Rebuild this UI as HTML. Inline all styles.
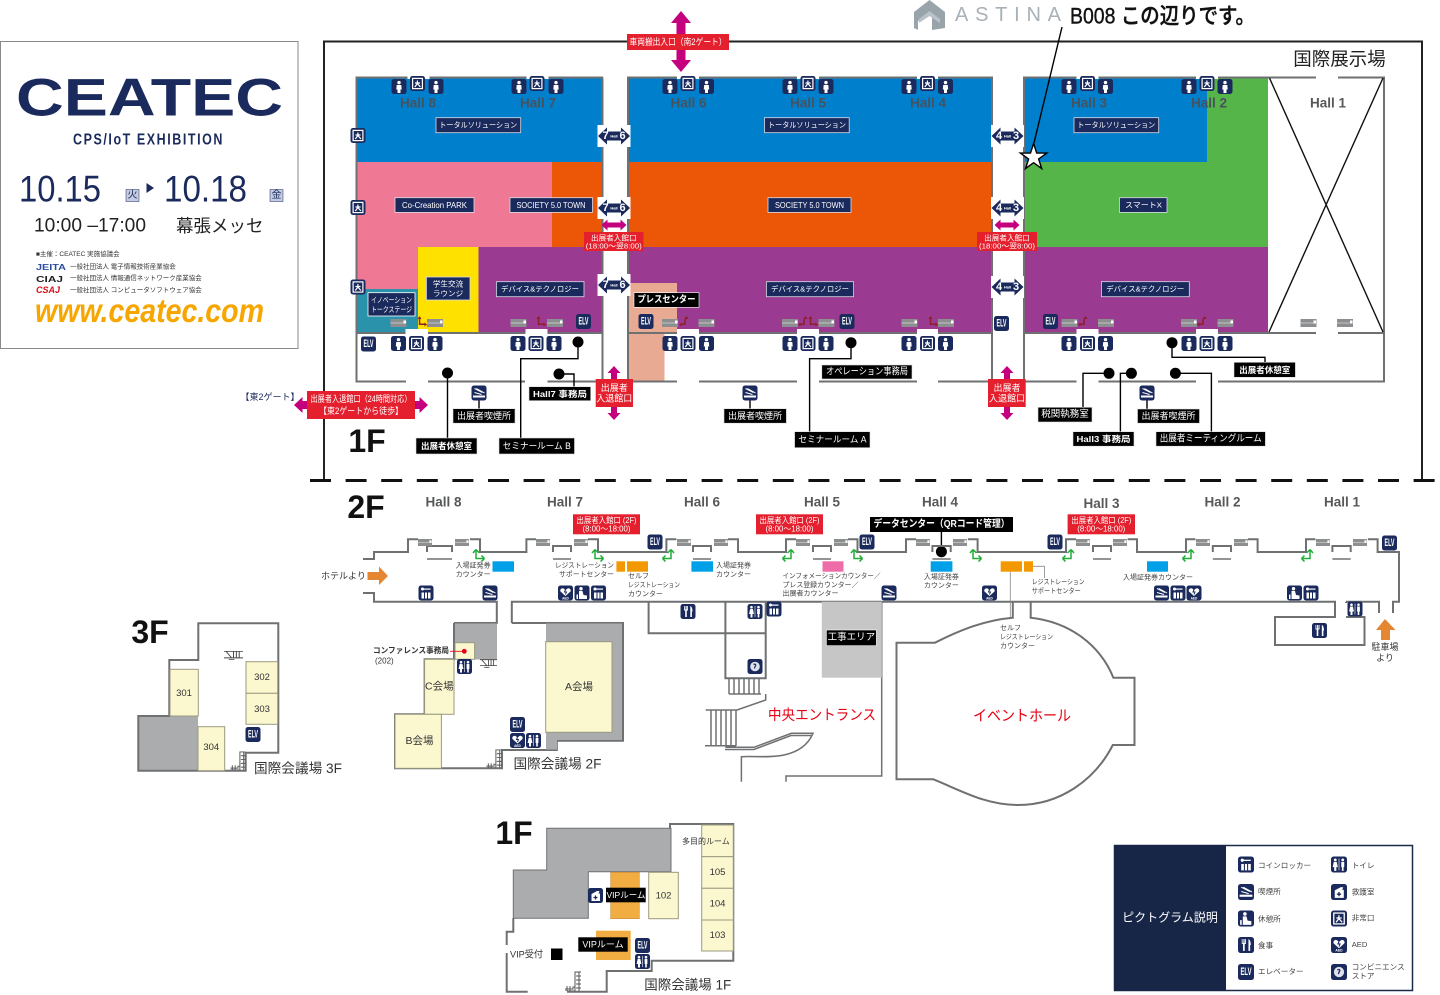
<!DOCTYPE html>
<html lang="ja"><head><meta charset="utf-8"><title>CEATEC Floor Map</title>
<style>
html,body{margin:0;padding:0;background:#fff}
svg{display:block}
text{font-family:"Liberation Sans","Noto Sans CJK JP",sans-serif;dominant-baseline:central;fill:#333}
.c{text-anchor:middle}
.w{fill:#fff;text-anchor:middle;font-size:8.5px}
.n{fill:#fff;text-anchor:middle;font-size:7.6px}
.h{font-weight:bold;font-size:13.5px;text-anchor:middle;fill:#57585a}
.hd{font-weight:bold;font-size:13.5px;text-anchor:middle;fill:#47525f}
.s{font-size:7px;fill:#444}
.l{font-size:7.6px;fill:#444}
.e{fill:#fff;font-weight:bold;font-size:11px;text-anchor:middle}
.big{font-weight:bold;font-size:32px;fill:#111;text-anchor:middle}
.rm{font-size:9.5px;fill:#333;text-anchor:middle}
.wall{fill:none;stroke:#6f7072;stroke-width:2}
.thin{fill:none;stroke:#6f7072;stroke-width:1.5}
.bl{fill:none;stroke:#000;stroke-width:1.4}
.nv{fill:#1b2a5c;stroke:#d8dce6;stroke-width:.8}
.bk{fill:#000;stroke:#ddd;stroke-width:.6}
.rd{fill:#e5202e}
.yl{fill:#fbf8d0;stroke:#9a9a80;stroke-width:1}
</style></head><body>
<svg width="1440" height="995" viewBox="0 0 1440 995" xmlns="http://www.w3.org/2000/svg">
<defs>
<symbol id="m" viewBox="0 0 15 15"><rect width="15" height="15" rx="2.5" fill="#1b2a5c"/><circle cx="7.5" cy="3.6" r="1.7" fill="#fff"/><path d="M5.2 6h4.6l.4 4.5H9V14H6v-3.5H4.8z" fill="#fff"/></symbol>
<symbol id="x" viewBox="0 0 15 15"><rect width="15" height="15" rx="2.5" fill="#1b2a5c"/><rect x="2.6" y="2.4" width="9.8" height="10.2" fill="none" stroke="#fff" stroke-width="1.2"/><path d="M7.4 4.500v3M5 7h5M7.4 7.500L4.800 11M7.4 7.500l3 3.500" stroke="#fff" stroke-width="1.2" fill="none"/></symbol>
<symbol id="f" viewBox="0 0 15 15"><rect width="15" height="15" rx="2.5" fill="#1b2a5c"/></symbol>
<symbol id="smoke" viewBox="0 0 15 15"><rect width="15" height="15" rx="2.5" fill="#1b2a5c"/><rect x="1.5" y="10" width="12" height="2" fill="#fff"/><path d="M3 3l8 4M5 3l8 4.500M3 7l7 2" stroke="#fff" stroke-width="1" fill="none"/></symbol>
<symbol id="lock" viewBox="0 0 15 15"><rect width="15" height="15" rx="2.5" fill="#1b2a5c"/><circle cx="4" cy="3.5" r="1.5" fill="#fff"/><rect x="4" y="3" width="8" height="1.2" fill="#fff"/><rect x="3" y="7" width="9" height="6" fill="#fff"/><path d="M6 7v6M9 7v6" stroke="#1b2a5c"/></symbol>
<symbol id="toil" viewBox="0 0 15 15"><rect width="15" height="15" rx="2.5" fill="#1b2a5c"/><circle cx="4" cy="3.2" r="1.3" fill="#fff"/><circle cx="11" cy="3.2" r="1.3" fill="#fff"/><path d="M2.6 5h2.8l1 5H5v3.500H3V10H1.600zM9.600 5h2.800v5h-.6v3.500h-1.600V10h-.6z" fill="#fff"/><rect x="7.2" y="2" width=".6" height="11" fill="#fff"/></symbol>
<symbol id="food" viewBox="0 0 15 15"><rect width="15" height="15" rx="2.5" fill="#1b2a5c"/><path d="M3.500 2v4.500h1.200V13h1.600V6.500h1.200V2h-.8v3.500H6.200V2H5.100v3.500H4.300V2zM10 2c1.500 1 2 3 2 5.500h-.6V13H9.800V2z" fill="#fff"/></symbol>
<symbol id="aed" viewBox="0 0 15 15"><rect width="15" height="15" rx="2.5" fill="#1b2a5c"/><path d="M7.500 10.500L2.500 6c-1-2 1.500-4 3-3l2 1.500 2-1.500c1.500-1 4 1 3 3z" fill="#fff"/><path d="M8 3L6.500 6.500h2l-1 2.500" stroke="#1b2a5c" fill="none"/><text x="7.500" y="12.800" style="fill:#fff;font-size:3.200px;font-weight:bold;text-anchor:middle">AED</text></symbol>
<symbol id="rest" viewBox="0 0 15 15"><rect width="15" height="15" rx="2.500" fill="#1b2a5c"/><circle cx="6.500" cy="3.200" r="1.700" fill="#fff"/><path d="M4.500 5.500h3.500l1 4 3.500.5v3.500H4.500zM2 9h1.500v4.500H2z" fill="#fff"/></symbol>
<symbol id="conv" viewBox="0 0 15 15"><rect width="15" height="15" rx="2.500" fill="#1b2a5c"/><circle cx="7.500" cy="7.500" r="4.800" fill="#dfe2ea"/><path d="M6 5.500c2-1 3 .5 1.500 2L7 9.500" stroke="#1b2a5c" fill="none" stroke-width="1.200"/></symbol>
<symbol id="aid" viewBox="0 0 15 15"><rect width="15" height="15" rx="2.500" fill="#1b2a5c"/><path d="M3.500 6L9 3h2.500l-1 2.500H12V13H3.500z" fill="#fff"/><path d="M7.500 7.500v4M5.500 9.500h4" stroke="#1b2a5c" stroke-width="1.300"/></symbol>
<symbol id="esc" viewBox="0 0 16 8"><rect width="16" height="8" fill="#8d8e90"/><path d="M0 4h13" stroke="#cfcfcf" stroke-width=".8"/><rect x="13" y="1.500" width="2.500" height="3" fill="#fff"/></symbol>
<symbol id="ga" viewBox="0 0 14 14"><path d="M4 1.500L1 5M4 1.500L7.500 5M4 1.500V10.500H12.500M12.500 10.500L9.500 7.500M12.500 10.500L9.500 13.500" fill="none" stroke="#22ac38" stroke-width="1.500"/></symbol>
<symbol id="gb" viewBox="0 0 14 14"><path d="M10 1.500L13 5M10 1.500L6.500 5M10 1.500V10.500H1.500M1.500 10.500L4.500 7.500M1.500 10.500L4.500 13.500" fill="none" stroke="#22ac38" stroke-width="1.500"/></symbol>
<symbol id="ra" viewBox="0 0 10 12"><path d="M2.500 1L.5 4h4zM1.800 4v6h6V8.500H3.300V4zM7.500 7.500v4l2.500-2z" fill="#8f1f28"/></symbol>
<symbol id="rb" viewBox="0 0 10 12"><path d="M7.500 1l2 3h-4zM6.700 4v6h-5V8.500h3.500V4zM2.500 7.500v4L0 9.500z" fill="#8f1f28"/></symbol>
<symbol id="st" viewBox="0 0 16 20"><path d="M0 18h8V16h2V1h6M10 1v19M0 20h10M14 1v19M11 5h5M11 9h5M11 13h5M11 17h5M2 15v5M5 15v5" fill="none" stroke="#555" stroke-width="1"/></symbol>
<symbol id="st2" viewBox="0 0 20 9"><path d="M0 0h20M0 7h20M2 0l6 7M10 0v7M13 0v7M16 0v7M5 9h6" fill="none" stroke="#444" stroke-width="1"/></symbol>
</defs>

<!-- left panel -->
<rect x="0.500" y="41.500" width="297.500" height="307" fill="#fff" stroke="#8a8a8a"/>
<text x="16" y="98" font-size="53" font-weight="bold" textLength="267" lengthAdjust="spacingAndGlyphs" style="fill:#1b2a5c">CEATEC</text>
<text x="73" y="140" font-size="16" font-weight="bold" textLength="151" lengthAdjust="spacingAndGlyphs" style="fill:#1b2a5c" letter-spacing="2">CPS/IoT EXHIBITION</text>
<text x="19" y="189" font-size="37" textLength="82" lengthAdjust="spacingAndGlyphs" style="fill:#1b2a5c">10.15</text>
<text x="164" y="189" font-size="37" textLength="83" lengthAdjust="spacingAndGlyphs" style="fill:#1b2a5c">10.18</text>
<rect x="126" y="189.500" width="13" height="12" fill="#c3cce0" stroke="#1b2a5c" stroke-width=".5"/><text x="132.500" y="195.500" class="c" font-size="10" style="fill:#1b2a5c">火</text>
<rect x="270" y="189.500" width="13" height="12" fill="#c3cce0" stroke="#1b2a5c" stroke-width=".5"/><text x="276.500" y="195.500" class="c" font-size="10" style="fill:#1b2a5c">金</text>
<path d="M146.500 183l7.500 5-7.500 5z" fill="#1b2a5c"/>
<text x="34" y="226" font-size="19" textLength="112" lengthAdjust="spacingAndGlyphs" style="fill:#222">10:00 –17:00</text>
<text x="176" y="226" font-size="17.500" style="fill:#222">幕張メッセ</text>
<text x="36" y="254.500" font-size="6.500">■主催：CEATEC 実施協議会</text>
<text x="36" y="267" font-size="8.500" font-weight="bold" textLength="30" lengthAdjust="spacingAndGlyphs" style="fill:#2b4da0">JEITA</text>
<text x="36" y="279" font-size="8.500" font-weight="bold" textLength="27" lengthAdjust="spacingAndGlyphs" style="fill:#222">CIAJ</text>
<text x="36" y="290" font-size="9" font-weight="bold" font-style="italic" textLength="24" lengthAdjust="spacingAndGlyphs" style="fill:#d7111b">CSAJ</text>
<text x="70" y="267" font-size="6.500">一般社団法人 電子情報技術産業協会</text>
<text x="70" y="278.700" font-size="6.500">一般社団法人 情報通信ネットワーク産業協会</text>
<text x="70" y="290.300" font-size="6.500">一般社団法人 コンピュータソフトウェア協会</text>
<text x="35" y="310.500" font-size="33" font-weight="bold" font-style="italic" textLength="229" lengthAdjust="spacingAndGlyphs" style="fill:#f7a600">www.ceatec.com</text>

<!-- top: astina -->
<path d="M914 12L929.500 0 945 12V28L932 30V16L929.500 14 918 21V30L914 28z" fill="#98a3aa"/>
<path d="M919 19L929.500 11 940 19V23L929.500 16 919 23z" fill="#b9c2c7"/>
<text x="955" y="15" font-size="20" textLength="106" lengthAdjust="spacing" style="fill:#a8b1b7">ASTINA</text>
<text x="1070" y="16" font-size="22" textLength="185" lengthAdjust="spacingAndGlyphs" style="fill:#111;font-weight:500;stroke:#111;stroke-width:.4">B008 この辺りです。</text>

<!-- frame -->
<path d="M324 480V41.500H1422V480" fill="none" stroke="#222" stroke-width="2"/>
<path d="M310 480.500H1440" stroke="#111" stroke-width="3" stroke-dasharray="21 14.600" fill="none"/>
<text x="1339.500" y="59" font-size="18.500" class="c" style="fill:#222">国際展示場</text>

<!-- hall fills -->
<rect x="357" y="77" width="245" height="85" fill="#0080cc"/>
<rect x="357" y="162" width="195" height="85" fill="#ef7995"/>
<rect x="552" y="162" width="50" height="85" fill="#ec5707"/>
<rect x="357" y="247" width="61" height="42" fill="#ef7995"/>
<rect x="357" y="289" width="61" height="44" fill="#2a93ab"/>
<rect x="418" y="247" width="60.500" height="86" fill="#ffe100"/>
<rect x="478.500" y="247" width="123.500" height="86" fill="#9a3a90"/>
<rect x="628" y="77" width="364" height="85" fill="#0080cc"/>
<rect x="628" y="162" width="364" height="85" fill="#ec5707"/>
<rect x="628" y="247" width="364" height="86" fill="#9a3a90"/>
<rect x="629" y="283" width="48" height="50" fill="#e8aa92"/>
<rect x="629" y="333" width="35.500" height="48" fill="#e8aa92"/>
<rect x="1024" y="77" width="244" height="170" fill="#56b548"/>
<rect x="1024" y="77" width="183" height="85" fill="#0080cc"/>
<rect x="1024" y="247" width="244" height="86" fill="#9a3a90"/>

<!-- hall walls -->
<path class="wall" d="M603 77.500H356.500V381.500H406M428 381.500H525M547.500 381.500H602.500V77.500"/>
<path class="wall" d="M628 381.500V77.500H992V381.500H938M917 381.500H819M797 381.500H699M677 381.500H628"/>
<path class="wall" d="M1024 381.500V77.500H1384V381.500H1218M1196 381.500H1098.500M1076.500 381.500H1024"/>
<path class="wall" d="M357 333H602M628 333H992M1024 333H1384"/>
<g fill="#fff">
<rect x="407.500" y="75" width="22" height="4"/><rect x="526.500" y="75" width="22" height="4"/><rect x="677" y="75" width="22" height="4"/><rect x="797" y="75" width="22" height="4"/><rect x="917" y="75" width="21" height="4"/><rect x="1076.500" y="75" width="22" height="4"/><rect x="1196" y="75" width="22" height="4"/><rect x="1316" y="75" width="22" height="4"/>
<rect x="405.500" y="329" width="22.500" height="5"/><rect x="525.500" y="329" width="22" height="5"/><rect x="677" y="329" width="22" height="5"/><rect x="797" y="329" width="22" height="5"/><rect x="917" y="329" width="21" height="5"/><rect x="1076.500" y="329" width="22" height="5"/><rect x="1196" y="329" width="22" height="5"/><rect x="1316" y="329" width="22" height="5"/>
</g>
<!-- Hall 1 X -->
<path d="M1269.500 78L1383 332M1383 78L1269 332" stroke="#111" stroke-width="1.400" fill="none"/>

<!-- hall labels -->
<g>
<text x="418" y="103" class="hd">Hall 8</text><text x="538" y="103" class="hd">Hall 7</text><text x="688.500" y="103" class="hd">Hall 6</text><text x="808" y="103" class="hd">Hall 5</text><text x="928" y="103" class="hd">Hall 4</text><text x="1089" y="103" class="hd">Hall 3</text><text x="1209" y="103" class="hd">Hall 2</text><text x="1328" y="103" class="h">Hall 1</text>
</g>

<!-- top icons -->
<use href="#m" x="391.500" y="79" width="15" height="15"/><use href="#x" x="410" y="76" width="15" height="15"/><use href="#m" x="428.500" y="79" width="15" height="15"/>
<use href="#m" x="511.500" y="79" width="15" height="15"/><use href="#x" x="529.500" y="76" width="15" height="15"/><use href="#m" x="548.500" y="79" width="15" height="15"/>
<use href="#m" x="662.500" y="79" width="15" height="15"/><use href="#x" x="680.500" y="76" width="15" height="15"/><use href="#m" x="699" y="79" width="15" height="15"/>
<use href="#m" x="782.500" y="79" width="15" height="15"/><use href="#x" x="800.500" y="76" width="15" height="15"/><use href="#m" x="818.500" y="79" width="15" height="15"/>
<use href="#m" x="901.500" y="79" width="15" height="15"/><use href="#x" x="920" y="76" width="15" height="15"/><use href="#m" x="938" y="79" width="15" height="15"/>
<use href="#m" x="1061.500" y="79" width="15" height="15"/><use href="#x" x="1080" y="76" width="15" height="15"/><use href="#m" x="1098" y="79" width="15" height="15"/>
<use href="#m" x="1181.500" y="79" width="15" height="15"/><use href="#x" x="1199.500" y="76" width="15" height="15"/><use href="#m" x="1217.500" y="79" width="15" height="15"/>
<!-- left exits -->
<use href="#x" x="350.500" y="128" width="15" height="15"/><use href="#x" x="350.500" y="200" width="15" height="15"/><use href="#x" x="350.500" y="279.500" width="15" height="15"/>
<!-- bottom icons -->
<use href="#m" x="391" y="336" width="15" height="15"/><use href="#x" x="409" y="336" width="15" height="15"/><use href="#m" x="427.500" y="336" width="15" height="15"/>
<use href="#m" x="510.500" y="336" width="15" height="15"/><use href="#x" x="528.500" y="336" width="15" height="15"/><use href="#m" x="546.500" y="336" width="15" height="15"/>
<use href="#m" x="662.500" y="336" width="15" height="15"/><use href="#x" x="680.500" y="336" width="15" height="15"/><use href="#m" x="699" y="336" width="15" height="15"/>
<use href="#m" x="782.500" y="336" width="15" height="15"/><use href="#x" x="800.500" y="336" width="15" height="15"/><use href="#m" x="818.500" y="336" width="15" height="15"/>
<use href="#m" x="901.500" y="336" width="15" height="15"/><use href="#x" x="920" y="336" width="15" height="15"/><use href="#m" x="938" y="336" width="15" height="15"/>
<use href="#m" x="1061.500" y="336" width="15" height="15"/><use href="#x" x="1080" y="336" width="15" height="15"/><use href="#m" x="1098" y="336" width="15" height="15"/>
<use href="#m" x="1181.500" y="336" width="15" height="15"/><use href="#x" x="1199.500" y="336" width="15" height="15"/><use href="#m" x="1217.500" y="336" width="15" height="15"/>

<!-- escalators 1F -->
<use href="#esc" x="390.500" y="319" width="16" height="8"/><use href="#esc" x="427" y="319" width="16" height="8"/><use href="#esc" x="510.500" y="319" width="16" height="8"/><use href="#esc" x="547" y="319" width="16" height="8"/><use href="#esc" x="662" y="319" width="16" height="8"/><use href="#esc" x="698.500" y="319" width="16" height="8"/><use href="#esc" x="782" y="319" width="16" height="8"/><use href="#esc" x="818.500" y="319" width="16" height="8"/><use href="#esc" x="901.500" y="319" width="16" height="8"/><use href="#esc" x="938" y="319" width="16" height="8"/><use href="#esc" x="1061.500" y="319" width="16" height="8"/><use href="#esc" x="1098" y="319" width="16" height="8"/><use href="#esc" x="1181" y="319" width="16" height="8"/><use href="#esc" x="1217.500" y="319" width="16" height="8"/><use href="#esc" x="1300.500" y="319" width="16" height="8"/><use href="#esc" x="1337" y="319" width="16" height="8"/>
<!-- dark red arrows -->
<use href="#ra" x="417" y="315" width="10" height="12"/><use href="#ra" x="536" y="315" width="10" height="12"/><use href="#rb" x="679" y="315" width="10" height="12"/><use href="#rb" x="798" y="315" width="10" height="12"/><use href="#ra" x="808" y="315" width="10" height="12"/><use href="#ra" x="928" y="315" width="10" height="12"/><use href="#rb" x="1078" y="315" width="10" height="12"/><use href="#rb" x="1197" y="315" width="10" height="12"/>
<!-- ELV 1F -->
<use href="#f" x="576" y="314" width="15" height="15"/><text x="583.500" y="321.500" class="e" textLength="10" lengthAdjust="spacingAndGlyphs">ELV</text>
<use href="#f" x="638.500" y="314" width="15" height="15"/><text x="646" y="321.500" class="e" textLength="10" lengthAdjust="spacingAndGlyphs">ELV</text>
<use href="#f" x="839.500" y="314" width="15" height="15"/><text x="847" y="321.500" class="e" textLength="10" lengthAdjust="spacingAndGlyphs">ELV</text>
<use href="#f" x="361" y="336.500" width="15" height="15"/><text x="368.500" y="344" class="e" textLength="10" lengthAdjust="spacingAndGlyphs">ELV</text>
<use href="#f" x="994" y="316" width="15" height="15"/><text x="1001.500" y="323.500" class="e" textLength="10" lengthAdjust="spacingAndGlyphs">ELV</text>
<use href="#f" x="1043" y="314" width="15" height="15"/><text x="1050.500" y="321.500" class="e" textLength="10" lengthAdjust="spacingAndGlyphs">ELV</text>

<!-- hall zone labels -->
<rect class="nv" x="436" y="117.700" width="84.700" height="15"/><text x="478.300" y="125.200" class="n" textLength="78" lengthAdjust="spacingAndGlyphs">トータルソリューション</text>
<rect class="nv" x="764.500" y="117.700" width="84.700" height="15"/><text x="807" y="125.200" class="n" textLength="78" lengthAdjust="spacingAndGlyphs">トータルソリューション</text>
<rect class="nv" x="1074" y="117.700" width="84.700" height="15"/><text x="1116.300" y="125.200" class="n" textLength="78" lengthAdjust="spacingAndGlyphs">トータルソリューション</text>
<rect class="nv" x="395" y="197.700" width="79" height="14.700"/><text x="434.500" y="205" class="n" style="font-size:8.500px" textLength="65" lengthAdjust="spacingAndGlyphs">Co-Creation PARK</text>
<rect class="nv" x="510" y="197.700" width="82.500" height="14.700"/><text x="551" y="205" class="n" style="font-size:8.500px" textLength="69" lengthAdjust="spacingAndGlyphs">SOCIETY 5.0 TOWN</text>
<rect class="nv" x="768" y="197.700" width="83" height="14.700"/><text x="809.500" y="205" class="n" style="font-size:8.500px" textLength="69" lengthAdjust="spacingAndGlyphs">SOCIETY 5.0 TOWN</text>
<rect class="nv" x="1119.500" y="197.700" width="47.500" height="14.700"/><text x="1143.500" y="205" class="n" textLength="37" lengthAdjust="spacingAndGlyphs">スマートX</text>
<rect class="nv" x="426.400" y="277" width="43.600" height="23"/><text x="448" y="284" class="n">学生交流</text><text x="448" y="293.500" class="n">ラウンジ</text>
<rect class="nv" x="368" y="292.700" width="47" height="23.300" style="stroke:#fff"/><text x="391.500" y="300" class="n" textLength="41" lengthAdjust="spacingAndGlyphs">イノベーション</text><text x="391.500" y="309.500" class="n" textLength="41" lengthAdjust="spacingAndGlyphs">トークステージ</text>
<rect class="nv" x="496.400" y="281.700" width="87.600" height="15"/><text x="540" y="289.200" class="n" textLength="78" lengthAdjust="spacingAndGlyphs">デバイス&amp;テクノロジー</text>
<rect class="nv" x="766.400" y="281.700" width="87.200" height="15"/><text x="810" y="289.200" class="n" textLength="78" lengthAdjust="spacingAndGlyphs">デバイス&amp;テクノロジー</text>
<rect class="nv" x="1101.400" y="281.700" width="87.900" height="15"/><text x="1145.300" y="289.200" class="n" textLength="78" lengthAdjust="spacingAndGlyphs">デバイス&amp;テクノロジー</text>
<rect class="bk" x="634" y="292.700" width="65" height="14.600" style="stroke:#fff"/><text x="666.500" y="300" class="w" style="font-size:9.500px;font-weight:bold" textLength="58" lengthAdjust="spacingAndGlyphs">プレスセンター</text>

<!-- hall connectors -->
<g>
<rect x="597.500" y="125" width="33" height="22" fill="#fff"/><rect x="597.500" y="197" width="33" height="22" fill="#fff"/><rect x="597.500" y="274" width="33" height="22" fill="#fff"/>
<rect x="991" y="125" width="33" height="22" fill="#fff"/><rect x="991" y="197" width="33" height="22" fill="#fff"/><rect x="991" y="276" width="33" height="22" fill="#fff"/>
<g fill="#1b2a5c">
<path transform="translate(614 136)" d="M-16 0L-7-8.500V-4.500H7V-8.500L16 0 7 8.500V4.500H-7V8.500z"/><path transform="translate(614 208)" d="M-16 0L-7-8.500V-4.500H7V-8.500L16 0 7 8.500V4.500H-7V8.500z"/><path transform="translate(614 285)" d="M-16 0L-7-8.500V-4.500H7V-8.500L16 0 7 8.500V4.500H-7V8.500z"/>
<path transform="translate(1007.500 136)" d="M-16 0L-7-8.500V-4.500H7V-8.500L16 0 7 8.500V4.500H-7V8.500z"/><path transform="translate(1007.500 208)" d="M-16 0L-7-8.500V-4.500H7V-8.500L16 0 7 8.500V4.500H-7V8.500z"/><path transform="translate(1007.500 287)" d="M-16 0L-7-8.500V-4.500H7V-8.500L16 0 7 8.500V4.500H-7V8.500z"/>
</g>
<g>
<text x="605.500" y="136" class="e">7</text><text x="614" y="136" class="e" style="font-size:4px">Hall</text><text x="622.500" y="136" class="e">6</text>
<text x="605.500" y="208" class="e">7</text><text x="614" y="208" class="e" style="font-size:4px">Hall</text><text x="622.500" y="208" class="e">6</text>
<text x="605.500" y="285" class="e">7</text><text x="614" y="285" class="e" style="font-size:4px">Hall</text><text x="622.500" y="285" class="e">6</text>
<text x="999" y="136" class="e">4</text><text x="1007.500" y="136" class="e" style="font-size:4px">Hall</text><text x="1016" y="136" class="e">3</text>
<text x="999" y="208" class="e">4</text><text x="1007.500" y="208" class="e" style="font-size:4px">Hall</text><text x="1016" y="208" class="e">3</text>
<text x="999" y="287" class="e">4</text><text x="1007.500" y="287" class="e" style="font-size:4px">Hall</text><text x="1016" y="287" class="e">3</text>
</g>
</g>

<!-- magenta arrows -->
<g fill="#c5007f">
<path d="M601.500 225l6-5.500v3h13v-3l6 5.500-6 5.500v-3h-13v3z"/>
<path d="M994.500 225l6-5.500v3h13v-3l6 5.500-6 5.500v-3h-13v3z"/>
<path d="M681 11l10 12h-5.500v37h5.500l-10 12-10-12h5.500V23H671z"/>
<path d="M614 366l6.500 7H617v7h-6v-7h-3.500zM611 406h6v7h3.500l-6.500 7-6.500-7h3.500z"/>
<path d="M1007 366l6.500 7H1010v7h-6v-7h-3.500zM1004 406h6v7h3.500l-6.500 7-6.500-7h3.500z"/>
<path d="M415 401h4.500v-4l8.500 8-8.500 8v-4H415zM307 401h-4.500v-4l-8.500 8 8.500 8v-4H307z"/>
</g>
<!-- red labels -->
<rect class="rd" x="627" y="34" width="102" height="16"/><text x="678" y="42" class="w" style="font-size:9px" textLength="97" lengthAdjust="spacingAndGlyphs">車両搬出入口（南2ゲート）</text>
<rect class="rd" x="584" y="232" width="59.500" height="19"/><text x="613.800" y="238" class="w" style="font-size:7.600px">出展者入館口</text><text x="613.800" y="246" class="w" style="font-size:7.600px" textLength="56" lengthAdjust="spacingAndGlyphs">(18:00～翌8:00)</text>
<rect class="rd" x="977" y="232" width="60" height="19"/><text x="1007" y="238" class="w" style="font-size:7.600px">出展者入館口</text><text x="1007" y="246" class="w" style="font-size:7.600px" textLength="56" lengthAdjust="spacingAndGlyphs">(18:00～翌8:00)</text>
<rect class="rd" x="595.700" y="379" width="37.300" height="28"/><text x="614.300" y="388" class="w" style="font-size:9px">出展者</text><text x="614.300" y="398.500" class="w" style="font-size:9px">入退館口</text>
<rect class="rd" x="988" y="379" width="37.700" height="28"/><text x="1007" y="388" class="w" style="font-size:9px">出展者</text><text x="1007" y="398.500" class="w" style="font-size:9px">入退館口</text>
<rect class="rd" x="307" y="391" width="108" height="28"/><text x="361" y="399" class="w" style="font-size:9px" textLength="101" lengthAdjust="spacingAndGlyphs">出展者入退館口（24時間対応）</text><text x="361" y="411" class="w" style="font-size:9px" textLength="84" lengthAdjust="spacingAndGlyphs">【東2ゲートから徒歩】</text>
<text x="270" y="397" class="c" font-size="9" style="fill:#1b2a5c">【東2ゲート】</text>

<text x="367" y="441" class="big">1F</text>
<text x="366" y="507" class="big">2F</text>

<!-- 1F connectors and labels -->
<g>
<path class="bl" d="M578 342V358.700H520.700V438M559 374H574V387M447.500 373V438M851 342.700V358.700H809.600V432M1172 342.700V357.300H1265V362M1109 373.300H1083V407M1131.400 373.300H1120.400V432M1175.400 373.300H1211.400V432M479 400V409M750 400V409M1147 400V409"/>
<g fill="#000"><circle cx="578" cy="342" r="5.500"/><circle cx="559" cy="374" r="5.500"/><circle cx="447.500" cy="373" r="5.500"/><circle cx="851" cy="342.700" r="5.500"/><circle cx="1172" cy="342.700" r="5.500"/><circle cx="1109" cy="373.300" r="5.500"/><circle cx="1131.400" cy="373.300" r="5.500"/><circle cx="1175.400" cy="373.300" r="5.500"/></g>
<use href="#smoke" x="471.500" y="385.500" width="15" height="15"/><use href="#smoke" x="742.500" y="385.500" width="15" height="15"/><use href="#smoke" x="1139.500" y="385.500" width="15" height="15"/>
<rect class="bk" x="416" y="438" width="61" height="16"/><text x="446.500" y="446" class="w" style="font-weight:bold;font-size:8.500px">出展者休憩室</text>
<rect class="bk" x="499" y="438" width="75.500" height="16"/><text x="536.800" y="446" class="w" style="font-size:9px" textLength="68" lengthAdjust="spacingAndGlyphs">セミナールーム B</text>
<rect class="bk" x="529" y="386.700" width="61.700" height="14"/><text x="560" y="394" class="w" style="font-weight:bold" textLength="54" lengthAdjust="spacingAndGlyphs">Hall7 事務局</text>
<rect class="bk" x="453" y="408.700" width="62" height="14.500"/><text x="484" y="416" class="w" style="font-size:9px">出展者喫煙所</text>
<rect class="bk" x="724" y="408.700" width="62.400" height="14.500"/><text x="755" y="416" class="w" style="font-size:9px">出展者喫煙所</text>
<rect class="bk" x="794.600" y="431.700" width="75.400" height="16"/><text x="832.500" y="439.700" class="w" style="font-size:9px" textLength="68" lengthAdjust="spacingAndGlyphs">セミナールーム A</text>
<rect class="bk" x="821.800" y="365" width="90.200" height="14"/><text x="867" y="372" class="w" style="font-size:9.500px" textLength="82" lengthAdjust="spacingAndGlyphs">オペレーション事務局</text>
<rect class="bk" x="1234" y="362.300" width="61.400" height="15"/><text x="1264.700" y="369.800" class="w" style="font-weight:bold">出展者休憩室</text>
<rect class="bk" x="1038" y="407.300" width="54" height="14.700"/><text x="1065" y="414.700" class="w" style="font-size:9.500px">税関執務室</text>
<rect class="bk" x="1073" y="431.700" width="61" height="14.500"/><text x="1103.500" y="439" class="w" style="font-weight:bold" textLength="54" lengthAdjust="spacingAndGlyphs">Hall3 事務局</text>
<rect class="bk" x="1137.500" y="409" width="62" height="14.200"/><text x="1168.500" y="416" class="w" style="font-size:9px">出展者喫煙所</text>
<rect class="bk" x="1156" y="431.700" width="109.400" height="14.500"/><text x="1210.700" y="439" class="w" style="font-size:9.500px" textLength="102" lengthAdjust="spacingAndGlyphs">出展者ミーティングルーム</text>
</g>

<!-- star -->
<path d="M1062 27L1034 143" stroke="#000" stroke-width="1.400" fill="none"/>
<path d="M1033.600 143.500l3.100 9.600h10.100l-8.200 5.900 3.100 9.600-8.100-5.900-8.100 5.900 3.100-9.600-8.200-5.900h10.100z" fill="#fff" stroke="#000" stroke-width="1.400"/>

<!-- 2F hall labels -->
<text x="443.500" y="502" class="h">Hall 8</text><text x="565" y="502" class="h">Hall 7</text><text x="702" y="502" class="h">Hall 6</text><text x="822" y="502" class="h">Hall 5</text><text x="940" y="502" class="h">Hall 4</text><text x="1101.500" y="503.500" class="h">Hall 3</text><text x="1222.500" y="502" class="h">Hall 2</text><text x="1342" y="502" class="h">Hall 1</text>
<rect class="rd" x="573" y="514.300" width="67" height="20"/><text x="606.500" y="520.500" class="w" style="font-size:8px" textLength="60" lengthAdjust="spacingAndGlyphs">出展者入館口 (2F)</text><text x="606.500" y="529" class="w" style="font-size:8px" textLength="48" lengthAdjust="spacingAndGlyphs">(8:00～18:00)</text>
<rect class="rd" x="756" y="514.300" width="67" height="20"/><text x="789.500" y="520.500" class="w" style="font-size:8px" textLength="60" lengthAdjust="spacingAndGlyphs">出展者入館口 (2F)</text><text x="789.500" y="529" class="w" style="font-size:8px" textLength="48" lengthAdjust="spacingAndGlyphs">(8:00～18:00)</text>
<rect class="rd" x="1067.600" y="514.300" width="67.400" height="20"/><text x="1101.300" y="520.500" class="w" style="font-size:8px" textLength="60" lengthAdjust="spacingAndGlyphs">出展者入館口 (2F)</text><text x="1101.300" y="529" class="w" style="font-size:8px" textLength="48" lengthAdjust="spacingAndGlyphs">(8:00～18:00)</text>
<rect x="870" y="517" width="143" height="15" fill="#000"/><text x="941.500" y="524.500" class="w" style="font-weight:bold;font-size:10px" textLength="136" lengthAdjust="spacingAndGlyphs">データセンター（QRコード管理）</text>
<path d="M941.400 532V546" stroke="#000" stroke-width="1.400"/><circle cx="941.400" cy="551.700" r="5.500" fill="#000"/>

<!-- 2F corridor -->
<path class="wall" d="M363 559H374V552H408V539.300H418M427 552V546H452V552M470 539.300H480V552H526.400V539.300H536M553 552V546H571V552M588 539.300H598V552H666.400V539.300H676.400M693 552V546H711V552M728 539.300H738V552H786V539.300H796M813 552V546H831V552M848 539.300H857.500V552H906V539.300H916M932.400 552V546H950.700V552M968 539.300H977.600V552H1066V539.300H1076M1093 552V546H1111V552M1127.600 539.300H1137V552H1186V539.300H1195.500M1212.800 552V546H1231V552M1248 539.300H1257.600V552H1306V539.300H1315.500M1332.400 552V546H1350.700V552M1368 539.300H1377.600V552H1399V601.700H1393V613M1379 613V601.700H1346"/>
<path class="wall" d="M363 593H374V601.700H496.800V623H454M511.800 623V601.700H1335V617H1275V645H1364.500V617H1346M511.800 623H623V740.700H556.800V750H502V768.300H395V714.300H424.600V659.300H454V623"/>
<g stroke="#6f7072" stroke-width="1.500" fill="none"><path d="M427 559H452M553 559H571M693 559H711M813 559H831M932.400 559H950.700M1093 559H1111M1212.800 559H1231M1332.400 559H1350.700"/></g>
<use href="#esc" x="418" y="539" width="14" height="7"/><use href="#esc" x="455" y="539" width="14" height="7"/><use href="#esc" x="536" y="539" width="14" height="7"/><use href="#esc" x="574" y="539" width="14" height="7"/><use href="#esc" x="677" y="539" width="14" height="7"/><use href="#esc" x="714" y="539" width="14" height="7"/><use href="#esc" x="796" y="539" width="14" height="7"/><use href="#esc" x="834" y="539" width="14" height="7"/><use href="#esc" x="916" y="539" width="14" height="7"/><use href="#esc" x="953" y="539" width="14" height="7"/><use href="#esc" x="1076" y="539" width="14" height="7"/><use href="#esc" x="1113" y="539" width="14" height="7"/><use href="#esc" x="1196" y="539" width="14" height="7"/><use href="#esc" x="1234" y="539" width="14" height="7"/><use href="#esc" x="1316" y="539" width="14" height="7"/><use href="#esc" x="1353" y="539" width="14" height="7"/>
<use href="#ga" x="472" y="548" width="14" height="14"/><use href="#ga" x="591" y="548" width="14" height="14"/><use href="#gb" x="661" y="548" width="14" height="14"/><use href="#gb" x="781" y="548" width="14" height="14"/><use href="#ga" x="850" y="548" width="14" height="14"/><use href="#ga" x="969" y="548" width="14" height="14"/><use href="#gb" x="1061" y="548" width="14" height="14"/><use href="#gb" x="1181" y="548" width="14" height="14"/><use href="#gb" x="1300" y="548" width="14" height="14"/>
<use href="#f" x="647.500" y="534.500" width="15" height="15"/><text x="655" y="542" class="e" textLength="10" lengthAdjust="spacingAndGlyphs">ELV</text>
<use href="#f" x="859.500" y="534.500" width="15" height="15"/><text x="867" y="542" class="e" textLength="10" lengthAdjust="spacingAndGlyphs">ELV</text>
<use href="#f" x="1047.500" y="534.500" width="15" height="15"/><text x="1055" y="542" class="e" textLength="10" lengthAdjust="spacingAndGlyphs">ELV</text>
<use href="#f" x="1382" y="535.500" width="15" height="15"/><text x="1389.500" y="543" class="e" textLength="10" lengthAdjust="spacingAndGlyphs">ELV</text>
<!-- counters -->
<g fill="#00a0e9"><rect x="492.500" y="561.300" width="21.500" height="10.400"/><rect x="691.400" y="561.300" width="21.600" height="10.400"/><rect x="930.700" y="561.300" width="21.700" height="10.400"/><rect x="1147" y="561.300" width="21" height="10.400"/></g>
<g fill="#f39800"><rect x="616.400" y="561.300" width="8.600" height="10.400"/><rect x="627" y="561.300" width="21" height="10.400"/><rect x="1000.700" y="561.300" width="21.300" height="10.400"/><rect x="1024" y="561.300" width="9" height="10.400"/></g>
<rect x="822.500" y="561.300" width="21" height="10.400" fill="#ee6ca8"/>
<path d="M1010.300 571.700V618M1033 566.300H1044.500V578" stroke="#888" stroke-width=".8" fill="none"/>
<!-- texts -->
<text x="490.700" y="566" class="s" text-anchor="end">入場証発券</text><text x="490.700" y="575" class="s" text-anchor="end">カウンター</text>
<text x="555" y="566" class="s" textLength="59" lengthAdjust="spacingAndGlyphs">レジストレーション</text><text x="559" y="575" class="s" textLength="55" lengthAdjust="spacingAndGlyphs">サポートセンター</text>
<text x="628" y="576.700" class="s">セルフ</text><text x="628" y="585.700" class="s" textLength="52" lengthAdjust="spacingAndGlyphs">レジストレーション</text><text x="628" y="594.300" class="s">カウンター</text>
<text x="716" y="566" class="s">入場証発券</text><text x="716" y="575" class="s">カウンター</text>
<text x="782.500" y="576.700" class="s" textLength="98" lengthAdjust="spacingAndGlyphs">インフォメーションカウンター／</text><text x="782.500" y="585.300" class="s" textLength="76" lengthAdjust="spacingAndGlyphs">プレス登録カウンター／</text><text x="782.500" y="594" class="s">出展者カウンター</text>
<text x="941.400" y="577.300" class="s c">入場証発券</text><text x="941.400" y="586" class="s c">カウンター</text>
<text x="1000" y="628.700" class="s">セルフ</text><text x="1000" y="637.700" class="s" textLength="53" lengthAdjust="spacingAndGlyphs">レジストレーション</text><text x="1000" y="646.700" class="s">カウンター</text>
<text x="1031.700" y="582.700" class="s" textLength="53" lengthAdjust="spacingAndGlyphs">レジストレーション</text><text x="1031.700" y="591.700" class="s" textLength="49" lengthAdjust="spacingAndGlyphs">サポートセンター</text>
<text x="1158" y="578" class="s c">入場証発券カウンター</text>
<text x="321" y="576" font-size="9">ホテルより</text>
<path d="M367.500 572H379V566.500L388 576 379 585V580H367.500z" fill="#e58633"/>
<path d="M1385 619L1395.500 630H1390V640H1381V630H1376z" fill="#e58633"/>
<text x="1385" y="647" class="c" font-size="9">駐車場</text><text x="1385" y="658" class="c" font-size="9">より</text>
<!-- icons 2F row -->
<use href="#lock" x="418.500" y="585.500" width="15" height="15"/><use href="#smoke" x="482.500" y="585.500" width="15" height="15"/>
<use href="#aed" x="558" y="585.500" width="15" height="15"/><use href="#rest" x="574.500" y="585.500" width="15" height="15"/><use href="#lock" x="591" y="585.500" width="15" height="15"/>
<use href="#smoke" x="881.500" y="585.500" width="15" height="15"/><use href="#aed" x="982" y="585.500" width="15" height="15"/>
<use href="#smoke" x="1154" y="585.500" width="15" height="15"/><use href="#lock" x="1170.500" y="585.500" width="15" height="15"/><use href="#aed" x="1186.500" y="585.500" width="15" height="15"/>
<use href="#rest" x="1287" y="585.500" width="15" height="15"/><use href="#lock" x="1303.500" y="585.500" width="15" height="15"/>
<use href="#toil" x="1347.500" y="601.500" width="15" height="15"/><use href="#food" x="1312" y="623" width="15" height="15"/>
<!-- rooms under corridor -->
<path class="wall" d="M648.600 601.700V633.300H765.700M725.400 601.700V678.300H765.700V601.700"/>
<use href="#food" x="680.500" y="604" width="15" height="15"/><use href="#toil" x="747.500" y="604" width="15" height="15"/><use href="#lock" x="766.500" y="601.500" width="15" height="15"/><use href="#conv" x="747.500" y="659" width="15" height="15"/>
<!-- stairs center -->
<path class="thin" d="M729 694V679M734 694V679M739 694V679M744 694V679M749 694V679M754 694V679M759 694V679M729 694H761"/>
<path class="thin" d="M765.700 694V700L737 710H705.700M711 710V746M716 710V746M721 710V746M726 710V746M731 710V746M736 710V746M705 745.700H736"/>
<path class="thin" d="M725.400 747.300H754L791.400 733.300H813C808 745 798 752 784 755C770 758 755 756 741.400 756.700V781.700M725 749.500H754L791 735.500H812"/>
<path class="thin" d="M786 781.700V776H881.700V601.700"/>
<rect x="821.800" y="601.700" width="60" height="76" fill="#c6c6c6"/>
<rect x="826.400" y="630" width="50" height="15.700" class="bk" style="stroke:#fff"/><text x="851.400" y="637.700" class="w" style="font-size:9.500px">工事エリア</text>
<text x="822" y="716" class="c" font-size="14.500" textLength="108" lengthAdjust="spacingAndGlyphs" style="fill:#e60012">中央エントランス</text>
<!-- event hall -->
<path class="wall" d="M1012.800 601.700V617.700C985 620 960 630 935 642.700H896.500V779.300H933.400C960 790 985 805 1018 805C1060 805 1095 780 1112.800 745H1134.500V677.700H1113.400C1100 645 1070 622 1030.700 617.700V601.700"/>
<text x="1022" y="716" class="c" font-size="15" textLength="98" lengthAdjust="spacingAndGlyphs" style="fill:#e60012">イベントホール</text>
<path d="M1346 601.700V603M1379 601.700V613M1393 601.700V613" class="wall"/>

<!-- conference 2F -->
<rect x="455" y="623.500" width="42" height="36" fill="#aaacae"/>
<rect x="455" y="642.700" width="19.600" height="16.600" fill="#fbf8d0" stroke="#9a9a80"/>
<circle cx="464.300" cy="651.300" r="2.400" fill="#e60012"/><path d="M450 651.300H462" stroke="#e60012" stroke-width=".8"/>
<use href="#st2" x="480" y="659" width="17" height="9"/>
<use href="#toil" x="457" y="659" width="15" height="15"/>
<rect class="yl" x="424.600" y="659.300" width="29.400" height="55"/><text x="439.300" y="686.500" class="rm" style="font-size:10.500px">C会場</text>
<rect class="yl" x="395" y="714.300" width="46.400" height="54"/><text x="419.500" y="741" class="rm" style="font-size:10.500px">B会場</text>
<path d="M546 623.500H622V740H557V749.500H546z" fill="#aaacae"/>
<rect class="yl" x="545.700" y="641.700" width="66.300" height="90.600"/><text x="579" y="687" class="rm" style="font-size:10.500px">A会場</text>
<use href="#f" x="510" y="717" width="15" height="15"/><text x="517.500" y="724.500" class="e" textLength="10" lengthAdjust="spacingAndGlyphs">ELV</text>
<use href="#aed" x="510" y="733" width="15" height="15"/><use href="#toil" x="526" y="733" width="15" height="15"/>
<use href="#st" x="486" y="749" width="16" height="19"/>
<text x="373" y="650.700" font-size="8" font-weight="bold" textLength="76" lengthAdjust="spacingAndGlyphs" style="fill:#333">コンファレンス事務局</text>
<text x="375" y="661" font-size="8">(202)</text>
<text x="513.500" y="764" font-size="13.500" textLength="88" lengthAdjust="spacingAndGlyphs">国際会議場 2F</text>

<!-- 3F -->
<text x="150" y="632" class="big">3F</text>
<rect x="138.300" y="716" width="59.700" height="54.700" fill="#aaacae"/>
<path class="wall" d="M198.300 623.300H278.300V752.700H245.700V770.700H138.300V716H169.300V660H198.300z"/>
<rect class="yl" x="170" y="669.300" width="28.300" height="46.700"/><text x="184" y="693.500" class="rm">301</text>
<rect class="yl" x="246" y="661.700" width="31.700" height="31.600"/><text x="262" y="677.500" class="rm">302</text>
<rect class="yl" x="246" y="693.300" width="31.700" height="31"/><text x="262" y="709.500" class="rm">303</text>
<rect class="yl" x="198" y="726.700" width="26.700" height="44"/><text x="211.300" y="747.500" class="rm">304</text>
<use href="#f" x="245.500" y="727" width="15" height="15"/><text x="253" y="734.500" class="e" textLength="10" lengthAdjust="spacingAndGlyphs">ELV</text>
<use href="#st2" x="224" y="651" width="19" height="9"/>
<use href="#st" x="230" y="751" width="16" height="19"/>
<text x="254" y="768.300" font-size="13.500" textLength="88" lengthAdjust="spacingAndGlyphs">国際会議場 3F</text>

<!-- 1F conference -->
<text x="514" y="833" class="big">1F</text>
<path d="M546.700 828.300H671V871.700H588.300V918.300H513.300V870H546.700z" fill="#aaacae" stroke="#6f7072"/>
<path class="wall" d="M670 828V824H733.300V960.700H651.700V971H606.700V991.700H567M527.700 991.700H506.700V953M506.700 945V931.700H513.300V918"/>
<rect class="yl" x="701.700" y="825" width="31.600" height="31.700"/>
<rect class="yl" x="701.700" y="856.700" width="31.600" height="31.600"/><text x="717.500" y="872.500" class="rm">105</text>
<rect class="yl" x="701.700" y="888.300" width="31.600" height="31.700"/><text x="717.500" y="904" class="rm">104</text>
<rect class="yl" x="701.700" y="920" width="31.600" height="31"/><text x="717.500" y="935.500" class="rm">103</text>
<text x="682" y="841.700" font-size="8">多目的ルーム</text>
<rect class="yl" x="648.700" y="872.300" width="29.600" height="46.400"/><text x="663.500" y="896" class="rm">102</text>
<rect x="610.700" y="872.300" width="28.600" height="46.400" fill="#f2ad42" stroke="#c6893a" stroke-width=".6"/>
<rect x="596" y="930.700" width="34.700" height="29.300" fill="#f2ad42"/>
<rect x="606" y="887.700" width="39.700" height="14.600" fill="#000"/><text x="626" y="895" class="w">VIPルーム</text>
<rect x="578.300" y="937.300" width="49.400" height="14.400" fill="#000"/><text x="603" y="944.500" class="w" style="font-size:9px">VIPルーム</text>
<use href="#aid" x="588" y="888" width="15" height="15"/>
<use href="#f" x="635" y="938" width="15" height="15"/><text x="642.500" y="945.500" class="e" textLength="10" lengthAdjust="spacingAndGlyphs">ELV</text>
<use href="#toil" x="635" y="954" width="15" height="15"/>
<rect x="551" y="948.500" width="11.500" height="11.500" fill="#000"/>
<text x="510" y="955" font-size="9.500" textLength="33" lengthAdjust="spacingAndGlyphs">VIP受付</text>
<use href="#st" x="565" y="971" width="16" height="20"/>
<text x="644.300" y="985" font-size="13.500" textLength="87" lengthAdjust="spacingAndGlyphs">国際会議場 1F</text>

<!-- legend -->
<rect x="1114.500" y="845.500" width="298" height="145" fill="#fff" stroke="#1b2a4a" stroke-width="1.500"/>
<rect x="1114" y="845" width="112" height="146" fill="#172647"/>
<text x="1170" y="917.300" class="c" font-size="12" style="fill:#fff">ピクトグラム説明</text>
<use href="#lock" x="1238" y="856.500" width="16" height="16"/><text x="1258" y="865.500" class="l">コインロッカー</text>
<use href="#smoke" x="1238" y="884" width="16" height="16"/><text x="1258" y="891.500" class="l">喫煙所</text>
<use href="#rest" x="1238" y="910.500" width="16" height="16"/><text x="1258" y="919" class="l">休憩所</text>
<use href="#food" x="1238" y="937" width="16" height="16"/><text x="1258" y="945.500" class="l">食事</text>
<use href="#f" x="1238" y="964" width="16" height="16"/><text x="1246" y="972" class="e" textLength="11" lengthAdjust="spacingAndGlyphs">ELV</text><text x="1258" y="971.500" class="l">エレベーター</text>
<use href="#toil" x="1331" y="856.500" width="16" height="16"/><text x="1351.700" y="865.500" class="l">トイレ</text>
<use href="#aid" x="1331" y="884" width="16" height="16"/><text x="1351.700" y="892" class="l">救護室</text>
<use href="#x" x="1331" y="910.500" width="16" height="16"/><text x="1351.700" y="918" class="l">非常口</text>
<use href="#aed" x="1331" y="937" width="16" height="16"/><text x="1351.700" y="944.500" class="l">AED</text>
<use href="#conv" x="1331" y="964" width="16" height="16"/><text x="1351.700" y="967" class="l">コンビニエンス</text><text x="1351.700" y="976" class="l">ストア</text>
</svg>
</body></html>
